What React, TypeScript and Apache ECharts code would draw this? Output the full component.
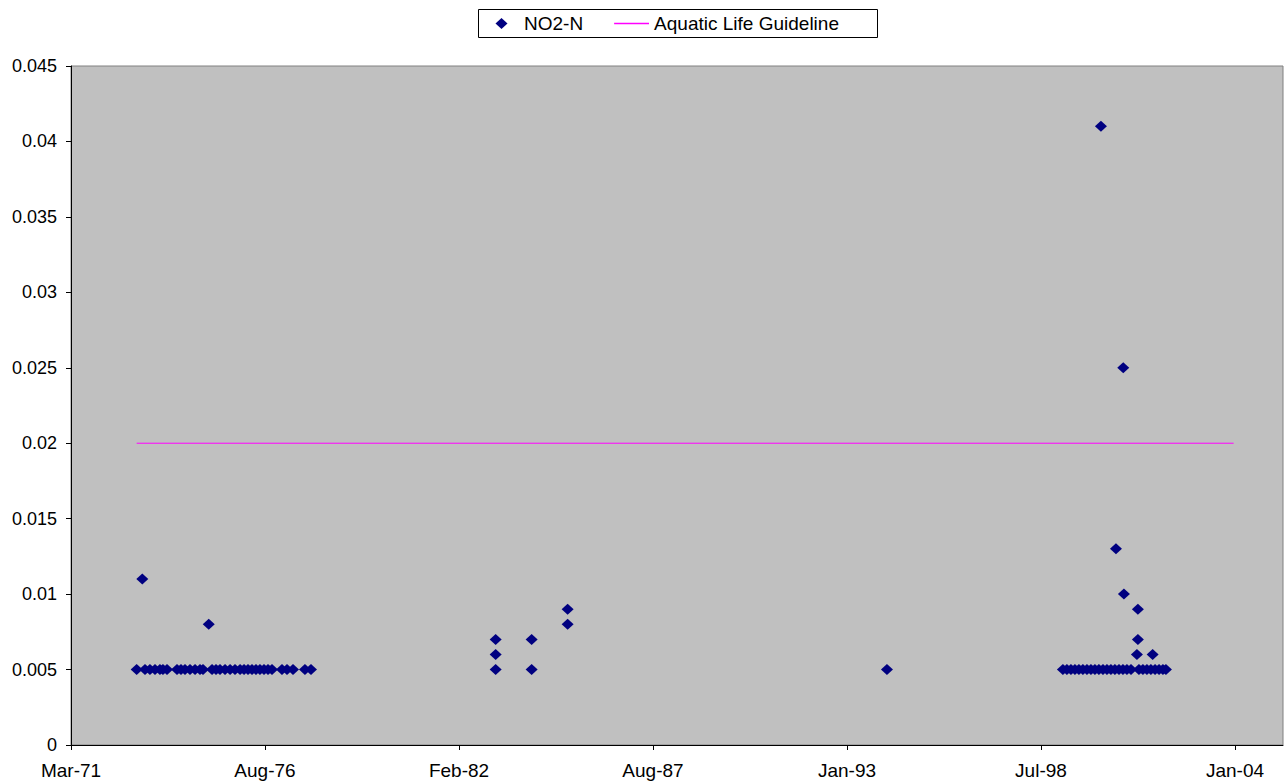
import React, { useEffect, useRef } from "react";
import * as echarts from "echarts";

// Sample dates and NO2-N values (mg/L)
const sampleDates: string[] = [
  "1973-01-13", "1973-03-12", "1973-04-09", "1973-05-30", "1973-07-21", "1973-09-10", "1973-10-11", "1973-11-22",
  "1974-03-05", "1974-04-15", "1974-05-26", "1974-07-17", "1974-09-07", "1974-10-28", "1974-11-28",
  "1975-01-26", "1975-03-01", "1975-04-11", "1975-05-22", "1975-07-13", "1975-09-03", "1975-10-24", "1975-12-15",
  "1976-01-25", "1976-03-06", "1976-04-16", "1976-05-27", "1976-07-07", "1976-08-18", "1976-09-28", "1976-11-08",
  "1977-02-19", "1977-04-12", "1977-06-13", "1977-10-14", "1977-12-15",
  "1983-03-03", "1983-03-03", "1983-03-03", "1984-03-08", "1984-03-08", "1985-03-14", "1985-03-14",
  "1994-03-19",
  "1999-03-07", "1999-04-17", "1999-05-29", "1999-07-09", "1999-08-19", "1999-09-29", "1999-11-10", "1999-12-21",
  "2000-01-31", "2000-03-12", "2000-04-02", "2000-04-23", "2000-06-03", "2000-07-14", "2000-08-24", "2000-09-04",
  "2000-10-05", "2000-11-15", "2000-11-18", "2000-11-25", "2000-12-26",
  "2001-02-06", "2001-04-08", "2001-04-18", "2001-04-18", "2001-04-29", "2001-06-09", "2001-07-20", "2001-08-30",
  "2001-09-17", "2001-10-12", "2001-11-22", "2002-01-01", "2002-02-01",
];
const no2Values: number[] = [
  0.005, 0.011, 0.005, 0.005, 0.005, 0.005, 0.005, 0.005,
  0.005, 0.005, 0.005, 0.005, 0.005, 0.005, 0.005,
  0.008, 0.005, 0.005, 0.005, 0.005, 0.005, 0.005, 0.005,
  0.005, 0.005, 0.005, 0.005, 0.005, 0.005, 0.005, 0.005,
  0.005, 0.005, 0.005, 0.005, 0.005,
  0.005, 0.006, 0.007, 0.005, 0.007, 0.008, 0.009,
  0.005,
  0.005, 0.005, 0.005, 0.005, 0.005, 0.005, 0.005, 0.005,
  0.005, 0.005, 0.041, 0.005, 0.005, 0.005, 0.005, 0.013,
  0.005, 0.005, 0.025, 0.010, 0.005,
  0.005, 0.006, 0.009, 0.007, 0.005, 0.005, 0.005, 0.005,
  0.006, 0.005, 0.005, 0.005, 0.005,
];

const guidelineDates: string[] = ["1973-01-13", "2003-12-31"];
const guidelineValues: number[] = [0.02, 0.02];

// x-axis ticks (Excel date serials)
const xTickSerials: number[] = [26000, 28000, 30000, 32000, 34000, 36000, 38000];
const xMin = 26000;
const xMax = 38495;
const yTicks = { min: 0, max: 0.045, interval: 0.005 };

const MONTHS = ["Jan", "Feb", "Mar", "Apr", "May", "Jun", "Jul", "Aug", "Sep", "Oct", "Nov", "Dec"];

function toSerial(s: string): number {
  const [y, m, d] = s.split("-").map(Number);
  return Date.UTC(y, m - 1, d) / 86400000 + 25569;
}
function serialLabel(v: number): string {
  const dt = new Date((v - 25569) * 86400000);
  return MONTHS[dt.getUTCMonth()] + "-" + String(dt.getUTCFullYear() % 100).padStart(2, "0");
}

const FONT = "'Liberation Sans', Arial, sans-serif";

const DIAMOND_ICON =
  "image://data:image/svg+xml;charset=utf-8," +
  encodeURIComponent(
    '<svg xmlns="http://www.w3.org/2000/svg" width="35" height="11" viewBox="0 0 35 11"><polygon points="11.5,5.5 17.5,0 23.5,5.5 17.5,11" fill="#000080"/></svg>'
  );
const LINE_ICON =
  "image://data:image/svg+xml;charset=utf-8," +
  encodeURIComponent(
    '<svg xmlns="http://www.w3.org/2000/svg" width="35" height="11" viewBox="0 0 35 11"><rect x="0" y="4.75" width="35" height="1.5" fill="#FF00FF"/></svg>'
  );

export default function App() {
  const ref = useRef<HTMLDivElement>(null);
  useEffect(() => {
    if (!ref.current) return;
    const chart = echarts.init(ref.current, undefined, { renderer: "svg" });
    const no2Data = sampleDates.map((d, i) => [toSerial(d), no2Values[i]]);
    const guideData = guidelineDates.map((d, i) => [toSerial(d), guidelineValues[i]]);
    chart.setOption({
      animation: false,
      backgroundColor: "#FFFFFF",
      textStyle: { fontFamily: FONT },
      grid: {
        left: 71,
        right: 1,
        top: 66,
        bottom: 39,
        show: true,
        backgroundColor: "#C0C0C0",
        borderColor: "#808080",
        borderWidth: 1,
      },
      legend: {
        left: 484,
        top: 14,
        padding: 0,
        itemWidth: 35,
        itemHeight: 11,
        itemGap: 31,
        textStyle: { fontFamily: FONT, fontSize: 19, color: "#000" },
        data: [
          { name: "NO2-N", icon: DIAMOND_ICON },
          { name: "Aquatic Life Guideline", icon: LINE_ICON },
        ],
      },
      graphic: [
        {
          type: "rect",
          shape: { x: 478.5, y: 9.5, width: 399, height: 28 },
          style: { fill: "none", stroke: "#000", lineWidth: 1 },
          z: 100,
        },
      ],
      xAxis: {
        type: "value",
        min: xMin,
        max: xMax,
        interval: 2000,
        axisLine: { show: true, lineStyle: { color: "#000", width: 1 } },
        axisTick: { show: true, length: 5, customValues: xTickSerials, lineStyle: { color: "#000" } },
        axisLabel: {
          customValues: xTickSerials,
          formatter: (v: number) => serialLabel(v),
          color: "#000",
          fontSize: 19,
          fontFamily: FONT,
          margin: 16,
        },
        splitLine: { show: false },
      },
      yAxis: {
        type: "value",
        min: yTicks.min,
        max: yTicks.max,
        interval: yTicks.interval,
        axisLine: { show: true, lineStyle: { color: "#000", width: 1 } },
        axisTick: { show: true, length: 5, lineStyle: { color: "#000" } },
        axisLabel: {
          formatter: (v: number) => String(+v.toFixed(3)),
          color: "#000",
          fontSize: 18,
          fontFamily: FONT,
          margin: 14,
        },
        splitLine: { show: false },
      },
      series: [
        {
          name: "NO2-N",
          type: "scatter",
          symbol: "diamond",
          symbolSize: [12, 11],
          itemStyle: { color: "#000080", opacity: 1 },
          data: no2Data,
          z: 3,
        },
        {
          name: "Aquatic Life Guideline",
          type: "line",
          symbol: "none",
          lineStyle: { color: "#FF00FF", width: 1 },
          itemStyle: { color: "#FF00FF" },
          data: guideData,
          z: 2,
        },
      ],
    });
    return () => chart.dispose();
  }, []);
  return (
    <div
      ref={ref}
      style={{ position: "fixed", left: 0, top: 0, width: 1284, height: 784, background: "#fff" }}
    />
  );
}
